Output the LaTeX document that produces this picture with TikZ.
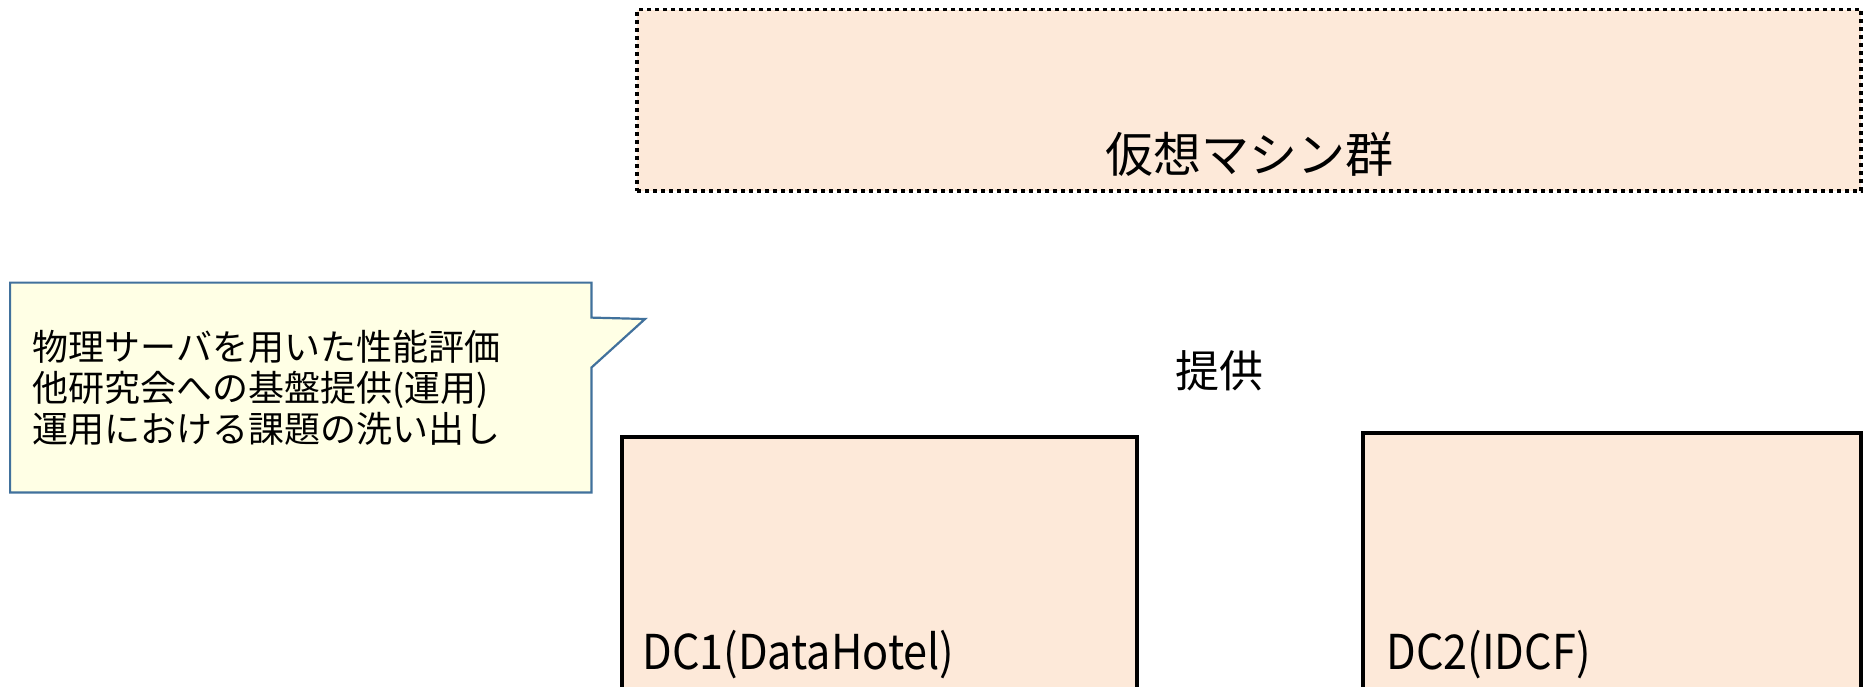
\documentclass[tikz,border=0pt]{standalone}
\usepackage{fontspec}
\setmainfont{Noto Sans CJK JP}
\newfontfamily\narrowfont[FakeStretch=0.9]{Noto Sans CJK JP}
\usetikzlibrary{calc}

\tikzstyle{vm-box}=[rectangle, draw=black, fill=BoxPeach, line width=1.6pt, dash pattern=on 2pt off 2pt, inner sep=0pt]
\tikzstyle{dc-box}=[rectangle, draw=black, fill=BoxPeach, line width=1.6pt, inner sep=0pt]
\tikzstyle{memo-area}=[rectangle, inner sep=0pt]
\tikzstyle{memo-shape}=[draw=MemoBlue, fill=MemoYellow, line width=1.1pt, line join=miter]
\tikzstyle{plain-text}=[inner sep=0pt, text=black]
\definecolor{BoxPeach}{HTML}{FDE9D9}
\definecolor{MemoYellow}{HTML}{FFFFE5}
\definecolor{MemoBlue}{HTML}{41719C}

\begin{document}
\begin{tikzpicture}[x=0.5pt, y=-0.5pt]
      \useasboundingbox (0,0) rectangle (1863,686);
      \clip (0,0) rectangle (1863,686);

      \node (box-vms) at (1249,100.25) [vm-box, minimum width=612pt, minimum height=90.75pt] {};
      \node (label-vms) at (1249,154) [plain-text, font=\fontsize{24pt}{28pt}\selectfont] {仮想マシン群};

      \node (label-provide) at (1219,371) [plain-text, font=\fontsize{22pt}{26pt}\selectfont] {提供};

      \node (box-dc1) at (879.5,587) [dc-box, minimum width=257.5pt, minimum height=150pt] {};
      \node (box-dc2) at (1612,585) [dc-box, minimum width=249pt, minimum height=152pt] {};
      \node (label-dc1) at (642,669) [plain-text, anchor=base west, font=\narrowfont\fontsize{24pt}{28pt}\selectfont] {DC1(DataHotel)};
      \node (label-dc2) at (1386,669) [plain-text, anchor=base west, font=\narrowfont\fontsize{24pt}{28pt}\selectfont] {DC2(IDCF)};

      % callout
      \node (memo-area) at (300.75,387.5) [memo-area, minimum width=290.25pt, minimum height=104.5pt] {};
      \coordinate (memo-tip) at (645,319);
      \filldraw[memo-shape] (memo-area.north west) -- (memo-area.north east)
            -- ($(memo-area.north east)+(0,35)$) -- (memo-tip)
            -- ($(memo-area.north east)+(0,85)$) -- (memo-area.south east)
            -- (memo-area.south west) -- cycle;
      \node (memo-text) at (32,388) [plain-text, anchor=west, align=left, font=\fontsize{18pt}{20.5pt}\selectfont] {物理サーバを用いた性能評価\\他研究会への基盤提供(運用)\\運用における課題の洗い出し};
    \end{tikzpicture}
\end{document}
